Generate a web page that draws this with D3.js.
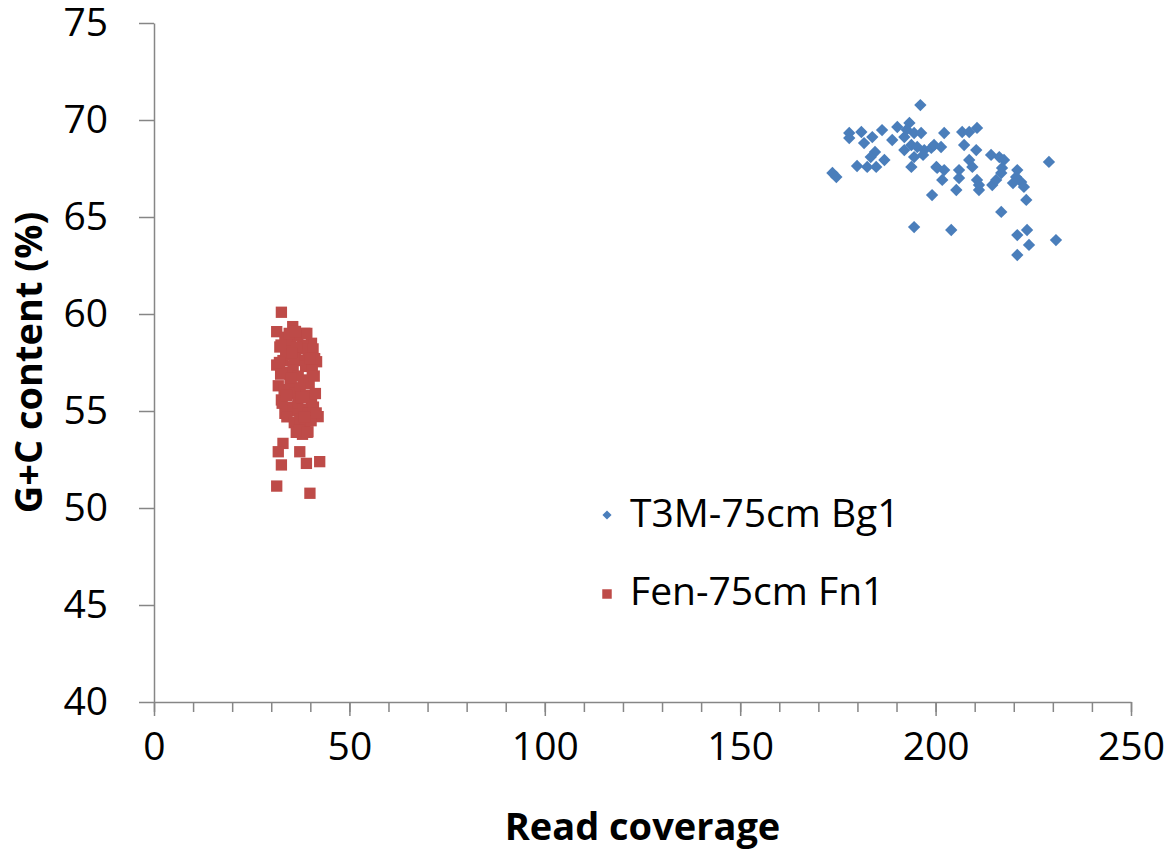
<!DOCTYPE html>
<html>
<head>
<meta charset="utf-8">
<script src="https://cdn.jsdelivr.net/npm/d3@7"></script>
<style>
  body { margin: 0; background: #fff; }
  text { font-family: "Open Sans", sans-serif; fill: #000; }
</style>
</head>
<body>
<div id="app"></div>
<script>
const WIDTH = 1172
const HEIGHT = 851

// T3M-75cm Bg1 : [read coverage, G+C %]
const bgPoints = [
  [196.1, 70.77], [177.9, 69.33], [177.9, 69.07], [181.0, 69.38], [181.7, 68.81],
  [183.8, 69.12], [186.3, 69.48], [184.5, 68.35], [183.4, 68.09], [179.9, 67.63],
  [182.5, 67.58], [184.8, 67.58], [186.9, 67.94], [173.6, 67.27], [174.6, 67.06],
  [188.9, 68.97], [190.2, 69.64], [193.3, 69.85], [192.0, 69.12], [194.5, 69.33],
  [196.3, 69.33], [193.8, 68.71], [195.3, 68.61], [197.1, 68.45], [198.9, 68.56],
  [199.6, 68.71], [194.5, 68.09], [193.8, 67.58], [200.2, 67.58], [199.1, 66.13],
  [201.7, 66.91], [202.2, 69.33], [206.8, 69.38], [208.6, 69.38], [210.6, 69.59],
  [201.4, 68.61], [207.3, 68.71], [210.4, 68.45], [208.6, 67.94], [209.4, 67.58],
  [214.2, 68.20], [216.3, 68.09], [217.5, 67.94], [217.0, 67.53], [216.8, 67.27],
  [214.5, 66.65], [215.5, 66.91], [220.9, 67.42], [220.6, 67.06], [221.9, 66.80],
  [222.6, 66.55], [223.2, 65.88], [229.0, 67.84], [200.4, 67.53], [202.2, 67.42],
  [206.0, 67.42], [206.0, 67.01], [205.3, 66.39], [210.6, 66.91], [211.1, 66.39],
  [194.5, 64.48], [204.0, 64.33], [216.8, 65.26], [220.9, 64.07], [223.4, 64.33],
  [223.9, 63.56], [220.9, 63.04], [230.8, 63.81], [211.1, 66.65], [192.0, 68.45],
  [219.8, 66.75], [192.6, 69.50], [196.8, 68.20]
]

// Fen-75cm Fn1 : [read coverage, G+C %]
const fnPoints = [
  [32.6, 60.09], [31.4, 59.09], [35.5, 59.35], [38.6, 59.0], [40.3, 58.49],
  [32.2, 58.3], [41.6, 57.54], [31.4, 57.37], [42.0, 54.71], [39.4, 53.93],
  [36.5, 54.1], [33.5, 54.88], [32.6, 55.57], [33.0, 53.33], [31.8, 52.9],
  [32.6, 52.22], [37.3, 52.9], [39.0, 52.3], [42.4, 52.39], [31.4, 51.13],
  [39.9, 50.76],
  [33.5, 58.8], [35.0, 58.6], [36.8, 58.9], [38.0, 58.4], [39.5, 58.0],
  [34.0, 58.1], [36.2, 57.9], [37.5, 57.6], [38.8, 57.3], [40.5, 57.1],
  [33.0, 57.6], [32.4, 56.9], [34.2, 57.0], [35.6, 57.3], [36.9, 56.8],
  [38.3, 56.6], [39.7, 56.4], [41.0, 56.8], [31.8, 56.3], [33.3, 56.1],
  [34.8, 56.4], [36.0, 55.9], [37.4, 56.2], [38.9, 55.8], [40.3, 55.6],
  [41.3, 55.9], [32.8, 55.4], [34.2, 55.2], [35.5, 55.0], [36.8, 55.4],
  [38.1, 55.1], [39.5, 54.9], [40.8, 55.2], [34.0, 54.7], [35.9, 54.4],
  [37.3, 54.6], [38.6, 54.3], [40.2, 54.5], [36.4, 53.9], [38.0, 53.8],
  [33.7, 57.9], [35.1, 56.7], [37.9, 58.2], [39.1, 59.0], [34.6, 59.0],
  [36.5, 58.3], [40.7, 58.2], [41.1, 57.7], [32.5, 58.4], [33.9, 55.8],
  [37.7, 55.7], [39.9, 57.7], [35.8, 57.7], [38.5, 54.7], [41.5, 54.9],
  [32.1, 57.5], [36.2, 59.1], [37.1, 54.0], [39.2, 53.9], [35.3, 58.0]
]

const xTicks = [0, 50, 100, 150, 200, 250]
const xMinorTicks = d3.range(0, 251, 10)
const yTicks = [40, 45, 50, 55, 60, 65, 70, 75]
const seriesNames = ['T3M-75cm Bg1', 'Fen-75cm Fn1']

const BLUE = '#4a7ebb'
const RED = '#be4b48'
const AXIS = '#868686'

const x = d3.scaleLinear().domain([0, 250]).range([154, 1131])
const y = d3.scaleLinear().domain([40, 75]).range([702, 23])

const svg = d3.select('#app').append('svg')
  .attr('width', WIDTH)
  .attr('height', HEIGHT)

svg.append('rect').attr('width', WIDTH).attr('height', HEIGHT).attr('fill', '#fff')

// minor ticks on x
svg.append('g')
  .attr('transform', 'translate(0,' + y(40) + ')')
  .call(d3.axisBottom(x).tickValues(xMinorTicks).tickSize(10).tickFormat(''))
  .call(g => g.select('.domain').remove())
  .call(g => g.selectAll('line').attr('stroke', AXIS).attr('stroke-width', 1.5))

const xAxis = svg.append('g')
  .attr('transform', 'translate(0,' + y(40) + ')')
  .call(d3.axisBottom(x).tickValues(xTicks).tickSize(14).tickSizeOuter(0).tickPadding(16))
xAxis.select('.domain').attr('stroke', AXIS).attr('stroke-width', 1.5)
xAxis.selectAll('line').attr('stroke', AXIS).attr('stroke-width', 1.5)
xAxis.selectAll('text')
  .style('font-family', '"Open Sans", sans-serif')
  .style('font-size', '39px')
  .attr('fill', '#000')

const yAxis = svg.append('g')
  .attr('transform', 'translate(' + x(0) + ',0)')
  .call(d3.axisLeft(y).tickValues(yTicks).tickSize(15).tickSizeOuter(0).tickPadding(31))
yAxis.select('.domain').attr('stroke', AXIS).attr('stroke-width', 1.5)
yAxis.selectAll('line').attr('stroke', AXIS).attr('stroke-width', 1.5)
yAxis.selectAll('text')
  .style('font-family', '"Open Sans", sans-serif')
  .style('font-size', '39px')
  .attr('fill', '#000')

const diamond = d3.symbol().type(d3.symbolSquare).size(76)
const square = d3.symbol().type(d3.symbolSquare).size(128)

svg.append('g').selectAll('path')
  .data(fnPoints)
  .enter().append('path')
  .attr('d', square)
  .attr('transform', d => 'translate(' + x(d[0]) + ',' + y(d[1]) + ')')
  .attr('fill', RED)

svg.append('g').selectAll('path')
  .data(bgPoints)
  .enter().append('path')
  .attr('d', diamond)
  .attr('transform', d => 'translate(' + x(d[0]) + ',' + y(d[1]) + ') rotate(45)')
  .attr('fill', BLUE)

// legend
const legend = svg.append('g')
legend.append('path')
  .attr('d', d3.symbol().type(d3.symbolSquare).size(42))
  .attr('transform', 'translate(607,515) rotate(45)')
  .attr('fill', BLUE)
legend.append('path')
  .attr('d', d3.symbol().type(d3.symbolSquare).size(90))
  .attr('transform', 'translate(607,594)')
  .attr('fill', RED)
legend.selectAll('text')
  .data(seriesNames)
  .enter().append('text')
  .attr('x', 630)
  .attr('y', (d, i) => 527 + i * 78)
  .style('font-size', '39px')
  .text(d => d)

// axis titles
svg.append('text')
  .attr('x', (x(0) + x(250)) / 2)
  .attr('y', 840)
  .attr('text-anchor', 'middle')
  .style('font-size', '38px')
  .style('font-weight', 'bold')
  .text('Read coverage')

svg.append('text')
  .attr('transform', 'translate(42,' + (y(40) + y(75)) / 2 + ') rotate(-90)')
  .attr('text-anchor', 'middle')
  .style('font-size', '38px')
  .style('font-weight', 'bold')
  .text('G+C content (%)')
</script>
</body>
</html>
